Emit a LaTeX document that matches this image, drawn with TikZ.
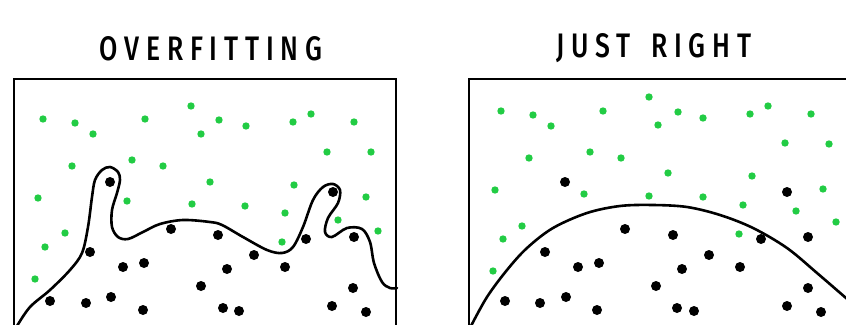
\documentclass[tikz,border=0pt]{standalone}
\usepackage{fontspec}
\newfontfamily\titlefont[FakeStretch=0.78,LetterSpace=20]{Fira Sans Medium}
\definecolor{dotgreen}{HTML}{22CC44}
\begin{document}
\begin{tikzpicture}[x=1pt,y=-1pt,
  frame/.style={line width=2.2pt,black},
  fitcurve/.style={line width=2.6pt,black,line join=round,line cap=round},
  title/.style={font=\titlefont\fontsize{34}{34}\selectfont,inner sep=0pt,anchor=center},
  gdot/.style={fill=dotgreen},
  bdot/.style={fill=black}]
\useasboundingbox (0,0) rectangle (846,324);
\clip (0,0) rectangle (846,324);
% titles
\node[title] (t1) at (211,48.5) {OVERFITTING};
\node[title] (t2) at (654,48.5) {JUST \hspace{7pt}RIGHT};
% frames
\draw[frame] (14,330) -- (14,79) -- (396,79) -- (396,330);
\draw[frame] (469,330) -- (469,79) -- (851,79) -- (851,330);
% left panel dots
\foreach \p in {(43,119),(75,123),(93,134),(145,119),(191,106),(219,120),(201,134),(246,126),(293,122),(311,114),(354,122),(327,152),(371,152),(72,166),(132,160),(163,166),(210,182),(294,185),(38,198),(127,201),(192,204),(245,206),(285,213),(366,197),(338,220),(378,231),(65,233),(45,247),(282,242),(35,279)}
  \fill[gdot] \p circle (3.7pt);
\foreach \p in {(110,182),(171,229),(218,235),(333,192),(306,239),(354,237),(90,252),(123,267),(144,263),(254,255),(227,269),(285,267),(201,286),(353,288),(50,301),(86,303),(111,297),(143,310),(223,308),(239,311),(332,306),(366,312)}
  \fill[bdot] \p circle (5pt);
% right panel dots
\foreach \p in {(501,111),(533,115),(551,126),(603,111),(649,97),(678,112),(658,125),(703,118),(750,114),(768,106),(811,114),(785,143),(829,144),(529,158),(590,152),(621,158),(668,173),(752,176),(495,190),(584,194),(649,196),(703,197),(743,205),(823,189),(796,211),(836,222),(522,226),(503,239),(739,234),(493,271)}
  \fill[gdot] \p circle (3.7pt);
\foreach \p in {(565,182),(625,229),(673,235),(787,192),(761,239),(808,237),(545,252),(578,267),(599,263),(709,255),(682,269),(740,267),(656,286),(808,288),(505,301),(540,303),(566,297),(597,310),(677,308),(694,311),(787,306),(821,312)}
  \fill[bdot] \p circle (5pt);
% curves
\draw[fitcurve] plot[smooth,tension=0.55] coordinates {(17,326) (30,307) (50,290) (70,270) (82,253) (88,227) (92,197) (95,180) (102,170) (110,167) (118,172) (120,180) (117,193) (112,210) (112,227) (118,237) (128,239) (143,232) (160,224) (183,220) (210,222) (222,225) (243,237) (267,250) (282,253) (293,247) (303,227) (313,200) (323,187) (333,184) (340,190) (338,203) (328,218) (325,232) (332,237) (347,228) (362,229) (370,242) (374,263) (382,282) (390,288) (397,288)};
\draw[fitcurve] plot[smooth,tension=0.55] coordinates {(471,326) (487,297) (507,270) (527,248) (553,228) (587,213) (620,206) (653,205) (687,207) (720,215) (753,228) (787,248) (817,273) (846,298) (852,303)};
\end{tikzpicture}
\end{document}
